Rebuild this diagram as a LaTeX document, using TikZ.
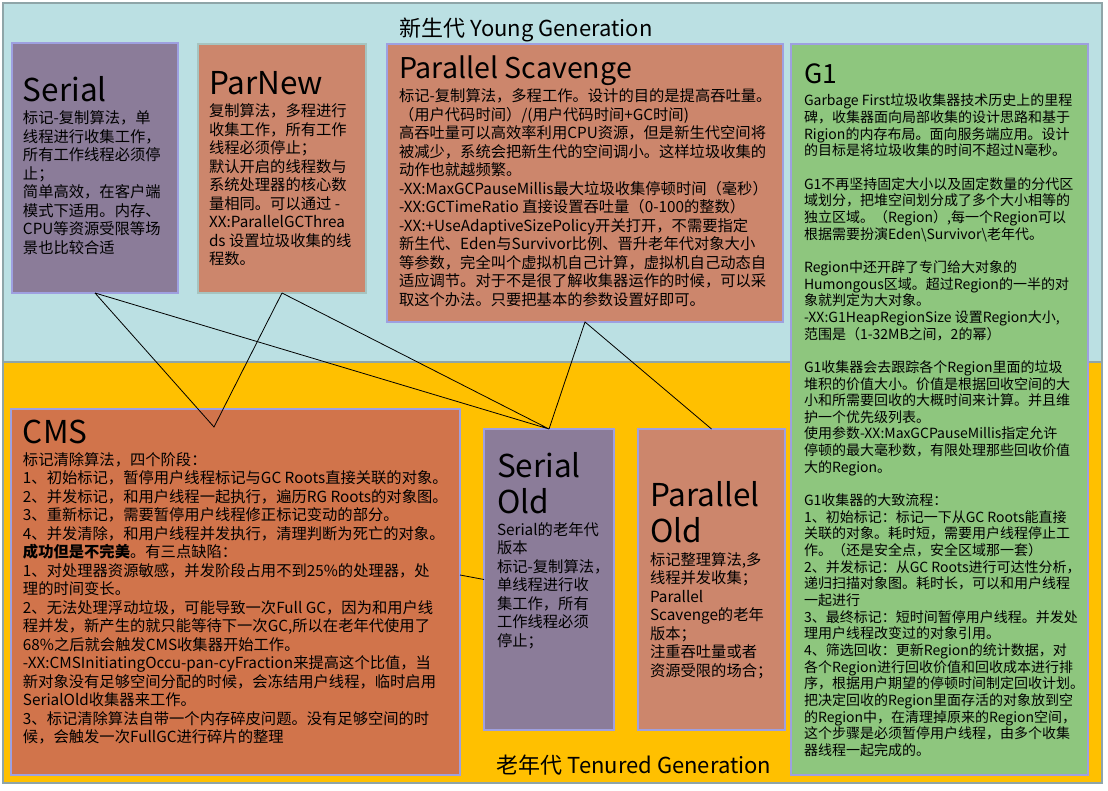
\documentclass[tikz,border=0pt]{standalone}
\usepackage{fontspec}
\setmainfont{Noto Sans CJK SC}
\usepackage{tikz}
\usetikzlibrary{positioning,calc}

\definecolor{youngbg}{RGB}{187,224,227}
\definecolor{tenuredbg}{RGB}{255,192,0}
\definecolor{frameline}{RGB}{143,165,168}
\definecolor{boxline}{RGB}{158,160,224}
\definecolor{parnewline}{RGB}{166,196,192}
\definecolor{serialfill}{RGB}{139,124,153}
\definecolor{parfill}{RGB}{204,134,108}
\definecolor{cmsfill}{RGB}{209,116,75}
\definecolor{gonefill}{RGB}{142,198,126}

\newcommand{\myfont}{\fontsize{15.3pt}{18.5pt}\selectfont}
\newcommand{\gfont}{\fontsize{14pt}{16.65pt}\selectfont}
\newcommand{\tfont}{\fontsize{31.5pt}{36pt}\selectfont}
\newcommand{\genfont}{\fontsize{22pt}{26pt}\selectfont}
\newcommand{\gctext}[2]{\parbox[t]{#1}{\raggedright #2}}

\begin{document}
\begin{tikzpicture}[x=1pt, y=-1pt,
  gcbox/.style={rectangle, draw=boxline, line width=2pt, inner sep=0pt,
    outer sep=0pt, anchor=north west},
  region/.style={rectangle, draw=frameline, line width=2pt, inner sep=0pt,
    outer sep=0pt, anchor=north west},
  txt/.style={inner sep=0pt, outer sep=0pt, text=black, anchor=base west, font=\myfont},
  ttl/.style={txt, font=\tfont},
  link/.style={draw=black, line width=0.8pt}]

  \useasboundingbox (0,0) rectangle (1108,791);

  %%%%%%%%%%% generations
  % young generation
  \node [region,
  fill=youngbg,
  minimum width=1099pt,
  minimum height=359pt] (young) at (3,3) {};
  \node [txt, font=\genfont, anchor=base] (younglbl) at (526,37) {新生代 Young Generation};

  % tenured generation
  \node [region,
  fill=tenuredbg,
  minimum width=1099pt,
  minimum height=421pt] (tenured) at (3,362) {};
  \node [txt, font=\genfont, anchor=base] (tenuredlbl) at (634,773) {老年代 Tenured Generation};

  %%%%%%%%%%% young collectors
  % Serial
  \node [gcbox,
  fill=serialfill,
  minimum width=166pt,
  minimum height=250pt] (serial) at (12,43) {};
  \node [ttl] (serialttl) at (23,102) {Serial};
  \node [txt] (serialtxt) at (23,124) {\gctext{150pt}{%
  标记-复制算法，单\\
  线程进行收集工作，\\
  所有工作线程必须停\\
  止；\\
  简单高效，在客户端\\
  模式下适用。内存、\\
  CPU等资源受限等场\\
  景也比较合适}};

  % ParNew
  \node [gcbox,
  draw=parnewline,
  fill=parfill,
  minimum width=168pt,
  minimum height=249pt] (parnew) at (198,44) {};
  \node [ttl] (parnewttl) at (209,95) {ParNew};
  \node [txt] (parnewtxt) at (209,117) {\gctext{155pt}{%
  复制算法，多程进行\\
  收集工作，所有工作\\
  线程必须停止；\\
  默认开启的线程数与\\
  系统处理器的核心数\\
  量相同。可以通过 -\\
  XX:ParallelGCThrea\\
  ds 设置垃圾收集的线\\
  程数。}};

  % Parallel Scavenge
  \node [gcbox,
  fill=parfill,
  minimum width=396pt,
  minimum height=278pt] (ps) at (387,44) {};
  \node [ttl, font=\fontsize{28.6pt}{34pt}\selectfont] (psttl) at (399,79) {Parallel Scavenge};
  \node [txt] (pstxt) at (399,102) {\gctext{380pt}{%
  标记-复制算法，多程工作。设计的目的是提高吞吐量。\\
  （用户代码时间）/(用户代码时间+GC时间)\\
  高吞吐量可以高效率利用CPU资源，但是新生代空间将\\
  被减少，系统会把新生代的空间调小。这样垃圾收集的\\
  动作也就越频繁。\\
  -XX:MaxGCPauseMillis最大垃圾收集停顿时间（毫秒）\\
  -XX:GCTimeRatio 直接设置吞吐量（0-100的整数）\\
  -XX:+UseAdaptiveSizePolicy开关打开，不需要指定\\
  新生代、Eden与Survivor比例、晋升老年代对象大小\\
  等参数，完全叫个虚拟机自己计算，虚拟机自己动态自\\
  适应调节。对于不是很了解收集器运作的时候，可以采\\
  取这个办法。只要把基本的参数设置好即可。}};

  % G1
  \node [gcbox,
  fill=gonefill,
  minimum width=297pt,
  minimum height=731pt] (gone) at (791,44) {};
  \node [ttl, font=\fontsize{26.5pt}{32pt}\selectfont] (gonettl) at (804,84) {G1};
  \node [txt, font=\gfont] (gonetxt) at (804,106) {\gctext{285pt}{%
  Garbage First垃圾收集器技术历史上的里程\\
  碑，收集器面向局部收集的设计思路和基于\\
  Rigion的内存布局。面向服务端应用。设计\\
  的目标是将垃圾收集的时间不超过N毫秒。\\[\baselineskip]
  G1不再坚持固定大小以及固定数量的分代区\\
  域划分，把堆空间划分成了多个大小相等的\\
  独立区域。（Region）,每一个Region可以\\
  根据需要扮演Eden\textbackslash Survivor\textbackslash 老年代。\\[\baselineskip]
  Region中还开辟了专门给大对象的\\
  Humongous区域。超过Region的一半的对\\
  象就判定为大对象。\\
  -XX:G1HeapRegionSize 设置Region大小,\\
  范围是（1-32MB之间，2的幂）\\[\baselineskip]
  G1收集器会去跟踪各个Region里面的垃圾\\
  堆积的价值大小。价值是根据回收空间的大\\
  小和所需要回收的大概时间来计算。并且维\\
  护一个优先级列表。\\
  使用参数-XX:MaxGCPauseMillis指定允许\\
  停顿的最大毫秒数，有限处理那些回收价值\\
  大的Region。\\[\baselineskip]
  G1收集器的大致流程：\\
  1、初始标记：标记一下从GC Roots能直接\\
  关联的对象。耗时短，需要用户线程停止工\\
  作。（还是安全点，安全区域那一套）\\
  2、并发标记：从GC Roots进行可达性分析，\\
  递归扫描对象图。耗时长，可以和用户线程\\
  一起进行\\
  3、最终标记：短时间暂停用户线程。并发处\\
  理用户线程改变过的对象引用。\\
  4、筛选回收：更新Region的统计数据，对\\
  各个Region进行回收价值和回收成本进行排\\
  序，根据用户期望的停顿时间制定回收计划。\\
  把决定回收的Region里面存活的对象放到空\\
  的Region中，在清理掉原来的Region空间，\\
  这个步骤是必须暂停用户线程，由多个收集\\
  器线程一起完成的。}};

  %%%%%%%%%%% tenured collectors
  % CMS
  \node [gcbox,
  fill=cmsfill,
  minimum width=449pt,
  minimum height=366pt] (cms) at (11,409) {};
  \node [ttl] (cmsttl) at (23,443) {CMS};
  \node [txt] (cmstxt) at (23,465) {\gctext{430pt}{%
  标记清除算法，四个阶段：\\
  1、初始标记，暂停用户线程标记与GC Roots直接关联的对象。\\
  2、并发标记，和用户线程一起执行，遍历RG Roots的对象图。\\
  3、重新标记，需要暂停用户线程修正标记变动的部分。\\
  4、并发清除，和用户线程并发执行，清理判断为死亡的对象。\\
  \textbf{成功但是不完美}。有三点缺陷：\\
  1、对处理器资源敏感，并发阶段占用不到25\%的处理器，处\\
  理的时间变长。\\
  2、无法处理浮动垃圾，可能导致一次Full GC，因为和用户线\\
  程并发，新产生的就只能等待下一次GC,所以在老年代使用了\\
  68\%之后就会触发CMS收集器开始工作。\\
  -XX:CMSInitiatingOccu-pan-cyFraction来提高这个比值，当\\
  新对象没有足够空间分配的时候，会冻结用户线程，临时启用\\
  SerialOld收集器来工作。\\
  3、标记清除算法自带一个内存碎皮问题。没有足够空间的时\\
  候，会触发一次FullGC进行碎片的整理}};

  % Serial Old
  \node [gcbox,
  fill=serialfill,
  minimum width=130pt,
  minimum height=301pt] (serialold) at (484,429) {};
  \node [ttl] (serialoldttl) at (497,477) {\gctext{115pt}{Serial\\Old}};
  \node [txt] (serialoldtxt) at (497,535) {\gctext{115pt}{%
  Serial的老年代\\
  版本\\
  标记-复制算法，\\
  单线程进行收\\
  集工作，所有\\
  工作线程必须\\
  停止；}};

  % Parallel Old
  \node [gcbox,
  fill=parfill,
  minimum width=147pt,
  minimum height=301pt] (parallelold) at (638,429) {};
  \node [ttl] (paralleloldttl) at (650,506) {\gctext{130pt}{Parallel\\Old}};
  \node [txt] (paralleloldtxt) at (650,565) {\gctext{130pt}{%
  标记整理算法,多\\
  线程并发收集；\\
  Parallel\\
  Scavenge的老年\\
  版本；\\
  注重吞吐量或者\\
  资源受限的场合；}};

  %%%%%%%%%%% connectors
  \coordinate (cmsin) at (214,427);

  % young collectors to CMS
  \draw [link] (serial.south) -- (cmsin) -- (parnew.south);

  % young collectors to Serial Old
  \draw [link] (serial.south) -- (serialold.north) -- (parnew.south);

  % Parallel Scavenge to Serial Old and Parallel Old
  \draw [link] (serialold.north) -- (ps.south) -- (parallelold.north);

  % CMS to Serial Old
  \draw [link] ([yshift=17pt]cms.east) -- (serialold.west);

\end{tikzpicture}
\end{document}
